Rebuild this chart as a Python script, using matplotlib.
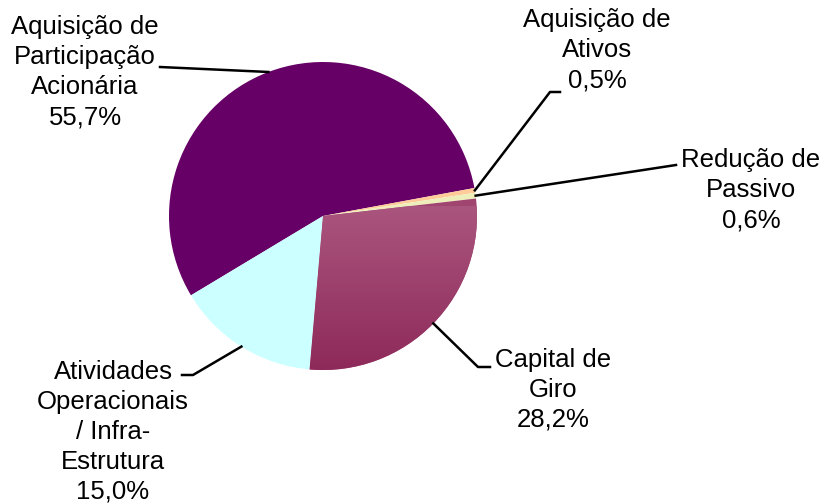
import numpy as np
import matplotlib
matplotlib.use('Agg')
import matplotlib.pyplot as plt
from matplotlib.colors import LinearSegmentedColormap

# data
labels = ['Aquisição de\nParticipação\nAcionária', 'Aquisição de\nAtivos', 'Redução de\nPassivo',
          'Capital de\nGiro', 'Atividades\nOperacionais\n/ Infra-\nEstrutura']
values = [55.7, 0.5, 0.6, 28.2, 15.0]
colors = ['#660066', '#FFCC99', '#EEEEBB', '#A0456F', '#CCFFFF']

W, H = 824, 503
plt.rcParams['font.family'] = ['Liberation Sans', 'DejaVu Sans']

fig = plt.figure(figsize=(W / 100, H / 100), dpi=100)
ax = fig.add_axes([0, 0, 1, 1])

cx, cy, r = 323, H - 216, 154
wedges, _ = ax.pie(values, colors=colors, startangle=211, counterclock=False,
                   center=(cx, cy), radius=r, frame=True,
                   wedgeprops=dict(linewidth=0))
ax.set_xlim(0, W)
ax.set_ylim(0, H)
ax.set_aspect('equal')
ax.axis('off')

# gradient on Capital de Giro
grad = np.linspace(0, 1, 256).reshape(-1, 1)
cmap = LinearSegmentedColormap.from_list('g', ['#8E2A5A', '#AA557E'])
im = ax.imshow(grad, cmap=cmap, extent=(cx - r, cx + r, cy - r, cy + 10),
               origin='lower', aspect='auto', zorder=2)
im.set_clip_path(wedges[3])

# label layout: text centre x, centre y of first line (px from top), leader points (px)
layout = [
    dict(tx=85, ty=27, pts=[(160, 67)]),
    dict(tx=597, ty=20, pts=[(550, 92), (560, 92)]),
    dict(tx=751, ty=160, pts=[(676, 165)]),
    dict(tx=553, ty=360, pts=[(478, 367), (490, 367)]),
    dict(tx=113, ty=372, pts=[(193, 375), (182, 375)]),
]
step = 30

for w, lab, v, lay in zip(wedges, labels, values, layout):
    ang = np.deg2rad((w.theta1 + w.theta2) / 2)
    ex, ey = cx + r * np.cos(ang), cy + r * np.sin(ang)
    xs = [ex] + [p[0] for p in lay['pts']]
    ys = [ey] + [H - p[1] for p in lay['pts']]
    ax.plot(xs, ys, color='black', lw=1.8, zorder=3)
    lines = lab.split('\n') + [('%.1f%%' % v).replace('.', ',')]
    for i, line in enumerate(lines):
        ax.text(lay['tx'], H - (lay['ty'] + i * step), line, ha='center', va='center',
                fontsize=18.5, color='black', zorder=4)

fig.savefig('out.png', dpi=100)
